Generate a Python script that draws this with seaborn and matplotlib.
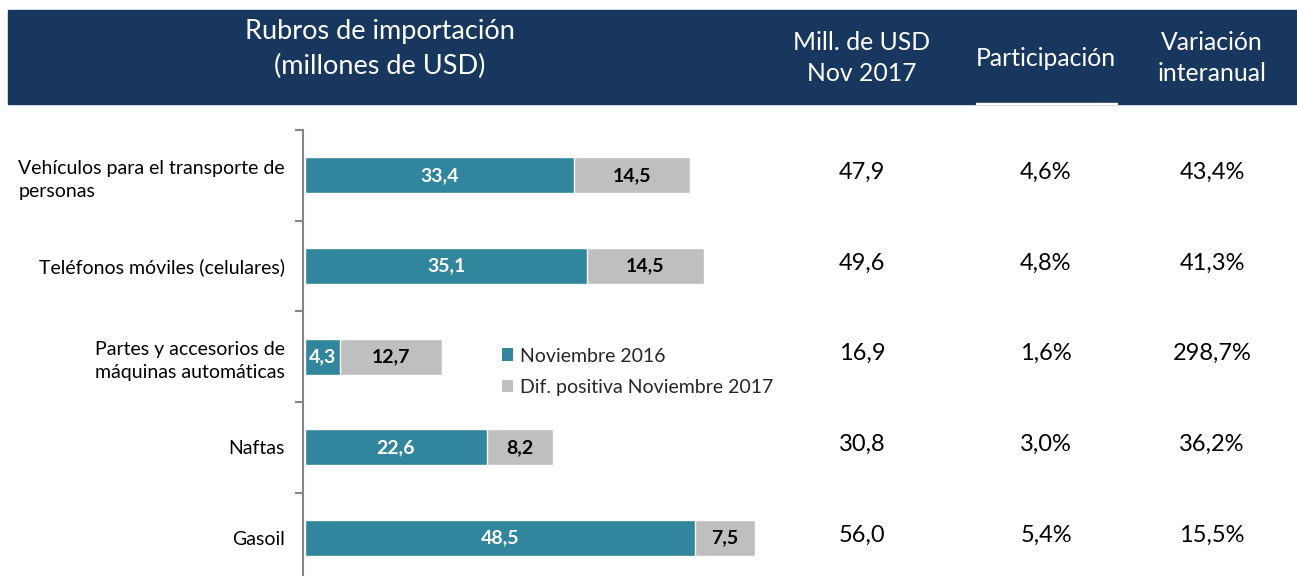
import matplotlib
matplotlib.use("Agg")
import matplotlib.pyplot as plt
from matplotlib.patches import Rectangle, Patch
import seaborn as sns
import pandas as pd

# ---- data ----
categories = ["Vehículos para el transporte de\npersonas",
              "Teléfonos móviles (celulares)",
              "Partes y accesorios de\nmáquinas automáticas",
              "Naftas",
              "Gasoil"]
nov2016 = [33.4, 35.1, 4.3, 22.6, 48.5]
dif_positiva = [14.5, 14.5, 12.7, 8.2, 7.5]
mill_nov2017 = [47.9, 49.6, 16.9, 30.8, 56.0]
participacion = [4.6, 4.8, 1.6, 3.0, 5.4]
variacion = [43.4, 41.3, 298.7, 36.2, 15.5]
series_names = ["Noviembre 2016", "Dif. positiva Noviembre 2017"]
header_left = "Rubros de importación\n(millones de USD)"
col_headers = ["Mill. de USD\nNov 2017", "Participación", "Variación\ninteranual"]

NAVY = "#17375E"
TEAL = "#31859C"
GRAY = "#BFBFBF"
AXGRAY = "#868686"

def fmt(v):
    return f"{v:.1f}".replace(".", ",")

sns.set_theme(style="white")
plt.rcParams["font.family"] = ["Lato", "DejaVu Sans"]

W, H = 1297, 576
fig = plt.figure(figsize=(W / 100, H / 100), dpi=100)

def fx(px):
    return px / W

def fy(py):
    return 1 - py / H

# header band
fig.patches.append(Rectangle((fx(8), fy(104)), fx(W - 8), 94 / H,
                             transform=fig.transFigure, color=NAVY, zorder=0))
fig.patches.append(Rectangle((fx(976), fy(104)), fx(141), 1.5 / H,
                             transform=fig.transFigure, color="white", zorder=1))
fig.text(fx(380), fy(49), header_left, ha="center", va="center",
         color="white", fontsize=19.5, linespacing=1.45)
col_x = [862, 1046, 1212]
fig.text(fx(col_x[0]), fy(58), col_headers[0], ha="center", va="center",
         color="white", fontsize=17.8, linespacing=1.38)
fig.text(fx(col_x[1]), fy(58), col_headers[1], ha="center", va="center",
         color="white", fontsize=17.8)
fig.text(fx(col_x[2]), fy(58), col_headers[2], ha="center", va="center",
         color="white", fontsize=17.8, linespacing=1.38)

# bar axes
ax_left, ax_top, ax_bottom = 305, 130, 576
scale = 8.04  # px per unit
ax = fig.add_axes([fx(ax_left), fy(ax_bottom), fx(W - ax_left), (ax_bottom - ax_top) / H])
ax.set_facecolor("none")

totals = [a + b for a, b in zip(nov2016, dif_positiva)]
df = pd.DataFrame({"cat": categories, "nov2016": nov2016, "total": totals})
sns.barplot(data=df, x="total", y="cat", color=GRAY, width=0.4, ax=ax,
            saturation=1, orient="h")
sns.barplot(data=df, x="nov2016", y="cat", color=TEAL, width=0.4, ax=ax,
            saturation=1, orient="h")

ax.set_xlim(0, (W - ax_left) / scale)
ax.set_ylim(4 + 38 / 90.75, -0.5)
ax.set_xlabel("")
ax.set_ylabel("")
for s in ["top", "right", "bottom"]:
    ax.spines[s].set_visible(False)
ax.spines["left"].set_color(AXGRAY)
ax.spines["left"].set_linewidth(1.5)
ax.spines["left"].set_position(("outward", 1.5))
ax.set_xticks([])
ax.set_yticks(range(len(categories)))
ax.set_yticklabels(categories, fontsize=14, color="#000000", multialignment="left",
                   linespacing=1.45)
ax.tick_params(axis="y", which="major", length=0, pad=13, left=False)
ax.set_yticks([-0.5, 0.5, 1.5, 2.5, 3.5], minor=True)
ax.tick_params(axis="y", which="minor", left=True, length=6, width=1.5,
               color=AXGRAY, direction="out")

for i in range(len(categories)):
    ax.text(nov2016[i] / 2, i, fmt(nov2016[i]), ha="center", va="center",
            color="white", fontsize=14, fontweight="bold")
    ax.text(nov2016[i] + dif_positiva[i] / 2, i, fmt(dif_positiva[i]),
            ha="center", va="center", color="black", fontsize=14, fontweight="bold")
    ytxt = ax.transData.transform((0, i))[1]
    yfig = fig.transFigure.inverted().transform((0, ytxt))[1] + 3 / H
    fig.text(fx(col_x[0]), yfig, fmt(mill_nov2017[i]), ha="center", va="center",
             fontsize=17, color="black")
    fig.text(fx(col_x[1]), yfig, fmt(participacion[i]) + "%", ha="center", va="center",
             fontsize=17, color="black")
    fig.text(fx(col_x[2]), yfig, fmt(variacion[i]) + "%", ha="center", va="center",
             fontsize=17, color="black")

handles = [Patch(facecolor=TEAL, edgecolor="none"), Patch(facecolor=GRAY, edgecolor="none")]
fig.legend(handles, series_names, loc="upper left",
           bbox_to_anchor=(fx(484), fy(330)), frameon=False, fontsize=14,
           handlelength=0.6, handleheight=0.6, handletextpad=0.35, labelspacing=0.75)

fig.savefig("out.png", dpi=100)
